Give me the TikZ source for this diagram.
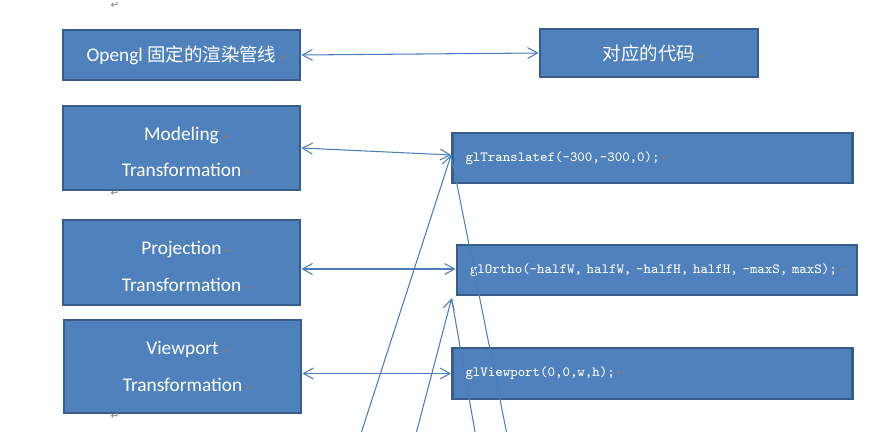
\documentclass[tikz,border=0pt]{standalone}
\usepackage{fontspec}
\setmainfont{Carlito}
\newfontfamily\cjk{Noto Sans CJK SC}
\newfontfamily\dejavu{DejaVu Sans}
\usetikzlibrary{arrows.meta, positioning}
\definecolor{boxfill}{HTML}{4F81BD}
\definecolor{boxline}{HTML}{385D8A}
\definecolor{linkblue}{HTML}{4A7EBB}
\newcommand{\retsign}{\rlap{\,\textcolor{gray}{\dejavu\fontsize{6}{6}\selectfont ↵}}}
\newcommand{\topgap}{\rule{0pt}{12pt}}
\newcommand{\cjktext}[1]{{\cjk\fontsize{10.5pt}{21pt}\selectfont #1}}

\begin{document}
\begin{tikzpicture}[node distance=2cm, thick, >={Straight Barb[length=2mm,width=2.2mm]}]
    % Define block styles
    \tikzstyle{block} = [rectangle, draw=boxline, line width=1.6pt, fill=boxfill, text=white,
        minimum width=4.74cm, align=center, font={\fontsize{11pt}{21pt}\selectfont}]
    \tikzstyle{codeblock} = [rectangle, draw=boxline, line width=1.6pt, fill=boxfill, text=white,
        text width=7.48cm, inner xsep=0.26cm, minimum height=1cm, align=left, font={\ttfamily\fontsize{8pt}{10pt}\selectfont}]
    \tikzstyle{line} = [draw=linkblue, line width=0.6pt, <->]
    \tikzstyle{feed} = [draw=linkblue, line width=0.6pt, ->]
    \tikzstyle{trail} = [draw=linkblue, line width=0.6pt]
    \tikzstyle{retnode} = [text=gray, inner sep=0pt, font={\dejavu\fontsize{6pt}{6pt}\selectfont}]

    \useasboundingbox (0,0) rectangle (17.4,-8.64);

    % Define nodes
    \node [block, minimum height=1cm] (opengl) at (3.63,-1.10) {Opengl \cjktext{固定的渲染管线}\retsign};
    \node [block, minimum width=4.36cm, minimum height=0.96cm] (code) at (12.98,-1.06) {\cjktext{对应的代码}\retsign};
    \node [block, below of=opengl, node distance=1.86cm, minimum height=1.68cm] (model) {\topgap Modeling\retsign\\Transformation\retsign};
    \node [block, below of=model, node distance=2.29cm, minimum height=1.7cm] (proj) {\topgap Projection\retsign\\Transformation\retsign};
    \node [block, below of=proj, node distance=2.08cm, xshift=0.02cm, minimum height=1.86cm] (view) {Viewport\retsign\\Transformation\retsign};

    \node [codeblock] (trans) at (13.05,-3.16) {glTranslatef(-300,-300,0);\retsign};
    \node [codeblock, below of=trans, node distance=2.24cm, xshift=0.09cm] (ortho) {glOrtho(-halfW, halfW, -halfH, halfH, -maxS, maxS);\retsign};
    \node [codeblock, below of=ortho, node distance=2.07cm, xshift=-0.09cm, minimum height=1.02cm] (vport) {glViewport(0,0,w,h);\retsign};

    \node [retnode] (rtop) at (2.3,-0.1) {↵};
    \node [retnode] (rmodel) at (2.3,-3.86) {↵};
    \node [retnode] (rview) at (2.3,-8.33) {↵};

    % Draw edges
    \coordinate (tin) at ([yshift=0.06cm]trans.west);
    \coordinate (oin) at ([xshift=-0.08cm,yshift=-0.04cm]ortho.south west);
    \coordinate (omid) at ([yshift=0.02cm]ortho.west);
    \coordinate (a0) at (7.23,-8.64);
    \coordinate (b0) at (8.33,-8.64);
    \coordinate (c0) at (10.13,-8.64);
    \coordinate (d0) at (9.5,-8.64);

    \path [line] (opengl.east) -- (code.west);
    \path [line] (model.east) -- (tin);
    \path [line] (proj.east |- omid) -- (omid);
    \path [line] (view.east |- vport.west) -- (vport.west);
    \path [feed] (a0) -- (tin);
    \path [feed] (b0) -- (oin);
    \path [trail] (tin) -- (c0);
    \path [trail] (oin) -- (d0);

\end{tikzpicture}
\end{document}
